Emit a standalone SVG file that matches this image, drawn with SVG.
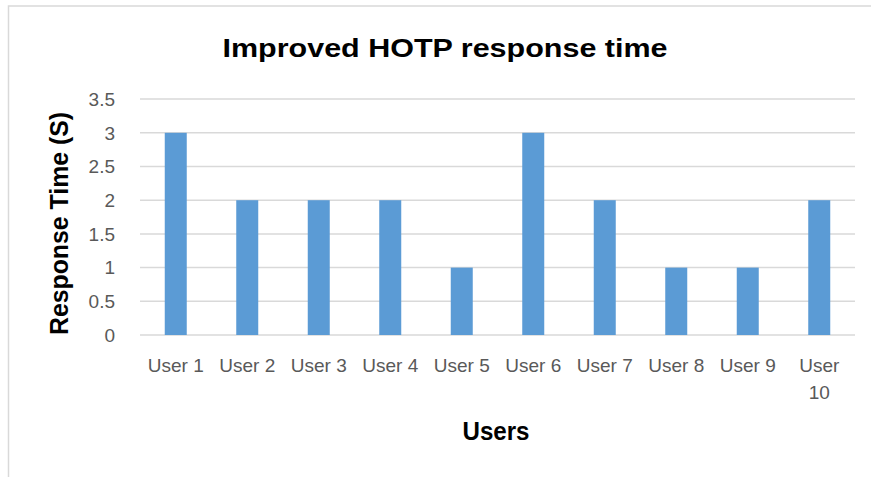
<svg xmlns="http://www.w3.org/2000/svg" width="871" height="477" viewBox="0 0 871 477">
  <style>
    .frame { fill: none; stroke: #d9d9d9; stroke-width: 1.5; }
    .grid { stroke: #d9d9d9; stroke-width: 1.5; }
    .bar { fill: #5b9bd5; }
    .tick { font-family: "Liberation Sans", Arial, sans-serif; font-size: 19px; fill: #595959; }
    .ytick { text-anchor: end; }
    .xtick { text-anchor: middle; }
    .title { font-family: "Liberation Sans", Arial, sans-serif; font-weight: bold; fill: #000; text-anchor: middle; }
  </style>
  <rect x="0" y="0" width="871" height="477" fill="#ffffff"/>
  <!-- chart area border -->
  <path class="frame" d="M8.5 477 V6 H871"/>

  <!-- chart title -->
  <text class="title" x="445" y="56.5" font-size="26.5" textLength="445" lengthAdjust="spacingAndGlyphs">Improved HOTP response time</text>

  <!-- value axis gridlines -->
  <g id="gridlines">
    <line class="grid" x1="140" y1="99.1" x2="855" y2="99.1"/>
    <line class="grid" x1="140" y1="132.8" x2="855" y2="132.8"/>
    <line class="grid" x1="140" y1="166.5" x2="855" y2="166.5"/>
    <line class="grid" x1="140" y1="200.2" x2="855" y2="200.2"/>
    <line class="grid" x1="140" y1="233.9" x2="855" y2="233.9"/>
    <line class="grid" x1="140" y1="267.6" x2="855" y2="267.6"/>
    <line class="grid" x1="140" y1="301.3" x2="855" y2="301.3"/>
    <line class="grid" x1="140" y1="335" x2="855" y2="335"/>
  </g>

  <!-- value axis labels -->
  <g id="y-ticks">
    <text class="tick ytick" x="115" y="105.9">3.5</text>
    <text class="tick ytick" x="115" y="139.6">3</text>
    <text class="tick ytick" x="115" y="173.3">2.5</text>
    <text class="tick ytick" x="115" y="207">2</text>
    <text class="tick ytick" x="115" y="240.7">1.5</text>
    <text class="tick ytick" x="115" y="274.4">1</text>
    <text class="tick ytick" x="115" y="308.1">0.5</text>
    <text class="tick ytick" x="115" y="341.8">0</text>
  </g>

  <!-- value axis title -->
  <text class="title" transform="translate(68 223.5) rotate(-90)" font-size="26.5" textLength="223" lengthAdjust="spacingAndGlyphs">Response Time (S)</text>

  <!-- data bars -->
  <g id="bars">
    <rect id="bar-user1" class="bar" x="164.75" y="132.8" width="22" height="202.2"/>
    <rect id="bar-user2" class="bar" x="236.25" y="200.2" width="22" height="134.8"/>
    <rect id="bar-user3" class="bar" x="307.75" y="200.2" width="22" height="134.8"/>
    <rect id="bar-user4" class="bar" x="379.25" y="200.2" width="22" height="134.8"/>
    <rect id="bar-user5" class="bar" x="450.75" y="267.6" width="22" height="67.4"/>
    <rect id="bar-user6" class="bar" x="522.25" y="132.8" width="22" height="202.2"/>
    <rect id="bar-user7" class="bar" x="593.75" y="200.2" width="22" height="134.8"/>
    <rect id="bar-user8" class="bar" x="665.25" y="267.6" width="22" height="67.4"/>
    <rect id="bar-user9" class="bar" x="736.75" y="267.6" width="22" height="67.4"/>
    <rect id="bar-user10" class="bar" x="808.25" y="200.2" width="22" height="134.8"/>
  </g>

  <!-- category axis labels -->
  <g id="x-ticks">
    <text class="tick xtick" x="175.75" y="371.5">User 1</text>
    <text class="tick xtick" x="247.25" y="371.5">User 2</text>
    <text class="tick xtick" x="318.75" y="371.5">User 3</text>
    <text class="tick xtick" x="390.25" y="371.5">User 4</text>
    <text class="tick xtick" x="461.75" y="371.5">User 5</text>
    <text class="tick xtick" x="533.25" y="371.5">User 6</text>
    <text class="tick xtick" x="604.75" y="371.5">User 7</text>
    <text class="tick xtick" x="676.25" y="371.5">User 8</text>
    <text class="tick xtick" x="747.75" y="371.5">User 9</text>
    <text class="tick xtick" x="819.25" y="371.5">User</text>
    <text class="tick xtick" x="819.25" y="399">10</text>
  </g>

  <!-- category axis title -->
  <text class="title" x="496" y="440" font-size="25.5" textLength="67" lengthAdjust="spacingAndGlyphs">Users</text>
</svg>
